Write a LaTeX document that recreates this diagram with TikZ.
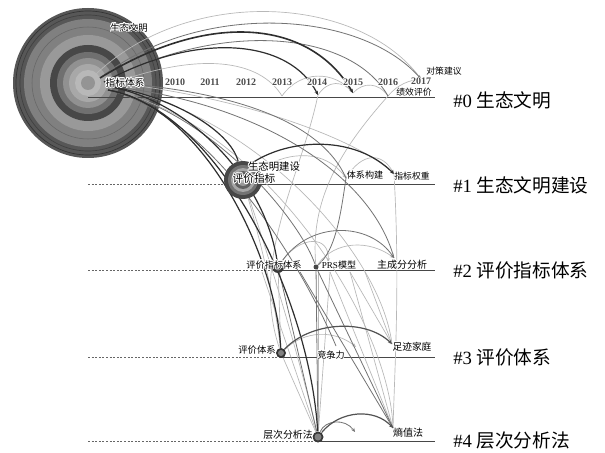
\documentclass[tikz,border=0pt]{standalone}
\usepackage{fontspec}
\setmainfont{Liberation Serif}
\newfontfamily\cjk{Noto Sans CJK SC}
\usepackage[copies]{contour}
\contourlength{0.6pt}
\usetikzlibrary{arrows.meta}
\begin{document}
\begin{tikzpicture}[x=0.75pt,y=-0.75pt,
  dk/.style={draw=black!82,line width=0.9pt},
  md/.style={draw=black!55,line width=0.6pt},
  lt/.style={draw=black!28,line width=0.5pt},
  tip/.style={-{Stealth[length=3pt,width=2.6pt]}},
  rowline/.style={draw=black!72,line width=0.7pt},
  dashrow/.style={draw=black!60,line width=0.6pt,dash pattern=on 1.5pt off 1.2pt},
  hub/.style={circle,inner sep=0pt},
  lbl/.style={font=\cjk\fontsize{7}{8}\selectfont,inner sep=0pt},
  yr/.style={font=\bfseries\fontsize{7.5}{8}\selectfont,text=black!70,inner sep=0pt},
  cluster/.style={font=\fontsize{14}{16}\selectfont,anchor=west,inner sep=0pt}]
\fill[white] (0,0) rectangle (605,452);
\useasboundingbox (0,0) rectangle (605,452);

% ---------- big circle (node #0) ----------
\fill[black!66] (88,83) circle[radius=75];
\draw[black!80,line width=0.5pt] (88,83) circle[radius=72];
\draw[black!75,line width=0.5pt] (88,83) circle[radius=68];
\fill[black!50] (88,83) circle[radius=64];
\draw[black!60,line width=0.4pt] (88,83) circle[radius=56];
\fill[black!40] (88,83) circle[radius=48];
\fill[black!72] (88,83) circle[radius=38];
\fill[black!56] (88,83) circle[radius=31];
\fill[black!43] (88,83) circle[radius=25];
\fill[black!34] (88,83) circle[radius=19];
\fill[black!28] (88,83) circle[radius=13];
\fill[black!42] (88,83) circle[radius=7];
\node[hub,minimum size=112pt] (N0) at (88,83) {};

% ---------- coordinates ----------
\coordinate (o5) at (96,74);
\coordinate (o1) at (100,78);
\coordinate (o2) at (104,82);
\coordinate (o3) at (106,86);
\coordinate (o4) at (108,90);
\coordinate (T17) at (421,79);
\coordinate (T16) at (388,96);
\coordinate (T15) at (353,93);
\coordinate (T14) at (318,95);
\coordinate (T13) at (282,96);
\coordinate (TX) at (346,178);
\coordinate (QZ) at (394,174);
\coordinate (N1a) at (252,163);
\coordinate (m2) at (328,262);
\coordinate (ZC) at (394,258);
\coordinate (p1) at (262,272);
\coordinate (p2) at (300,272);
\coordinate (p3) at (330,272);
\coordinate (p4) at (350,272);
\coordinate (p5) at (365,272);
\coordinate (pv) at (318,272);
\coordinate (JZ) at (336,346);
\coordinate (m3) at (356,347);
\coordinate (ZJ) at (392,344);
\coordinate (SZ) at (393,428);
\coordinate (m4) at (355,432);

% ---------- row lines ----------
\coordinate (r0s) at (88,97);  \coordinate (r0e) at (435,97);
\coordinate (r1s) at (88,184); \coordinate (r1m) at (240,184); \coordinate (r1e) at (435,184);
\coordinate (r2s) at (88,270); \coordinate (r2m) at (276,270); \coordinate (r2e) at (435,270);
\coordinate (r3s) at (88,357); \coordinate (r3m) at (280,357); \coordinate (r3e) at (435,357);
\coordinate (r4s) at (88,441); \coordinate (r4m) at (316,441); \coordinate (r4e) at (435,441);
\draw[rowline] (r0s) -- (r0e);
\draw[dashrow] (r1s) -- (r1m); \draw[rowline] (r1m) -- (r1e);
\draw[dashrow] (r2s) -- (r2m); \draw[rowline] (r2m) -- (r2e);
\draw[dashrow] (r3s) -- (r3m); \draw[rowline] (r3m) -- (r3e);
\draw[dashrow] (r4s) -- (r4m); \draw[rowline] (r4m) -- (r4e);

% ---------- nodes (named, drawn later) ----------
\node[hub,minimum size=28.5pt] (N1) at (243,180) {};
\node[hub,minimum size=9pt] (N2) at (278,267) {};
\node[hub,minimum size=3.8pt] (PRS) at (316,267) {};
\node[hub,minimum size=7.5pt] (N3) at (281,353) {};
\node[hub,minimum size=8.3pt] (N4) at (318,437) {};

% ---------- light links ----------
\draw[lt] (o5) .. controls (190,-15) and (360,-5) .. (T17);
\draw[lt] (o3) .. controls (200,50) and (260,60) .. (T13);
\draw[lt] (T14) .. controls (328,80) and (343,80) .. (T15);
\draw[lt] (T15) .. controls (363,82) and (378,82) .. (T16);
\draw[lt] (T16) .. controls (398,84) and (410,80) .. (T17);
\draw[lt] (T13) .. controls (300,70) and (335,70) .. (T15);
\draw[lt] (o3) .. controls (250,110) and (380,250) .. (ZJ);
\draw[lt] (o4) .. controls (260,120) and (390,320) .. (SZ);
\draw[lt] (o2) .. controls (240,95) and (360,140) .. (QZ);
\draw[lt] (N1) .. controls (270,260) and (300,360) .. (N4);
\draw[lt] (N1) .. controls (260,240) and (275,300) .. (N3);
\draw[lt] (T14) .. controls (300,180) and (250,260) .. (N3);
\draw[lt] (T16) .. controls (340,150) and (310,200) .. (PRS);
\draw[lt] (QZ) .. controls (400,280) and (395,360) .. (SZ);
\draw[lt] (p1) -- (N4);
\draw[lt] (pv) -- (N4);
\draw[lt] (p3) -- (N4);
\draw[lt] (p3) -- (SZ);
\draw[lt] (p4) -- (SZ);
\draw[lt] (p4) -- (ZJ);
\draw[lt] (p5) -- (ZJ);
\draw[lt] (N2) -- (N3);
\draw[lt] (N3) -- (N4);
\draw[lt,tip] (N1) .. controls (290,150) and (325,150) .. (TX);
\draw[lt,tip] (TX) .. controls (362,152) and (382,152) .. (QZ);
\draw[lt,tip] (N2) .. controls (300,235) and (330,235) .. (m2);
\draw[lt,tip] (N3) .. controls (305,330) and (335,330) .. (m3);
\draw[lt,tip] (PRS) .. controls (335,240) and (370,240) .. (ZC);

% ---------- medium links ----------
\draw[md,tip] (o1) .. controls (200,0) and (360,10) .. (T17);
\draw[md] (o2) .. controls (220,20) and (350,30) .. (T16);
\draw[md] (o4) .. controls (210,110) and (300,220) .. (PRS);
\draw[md] (o2) .. controls (230,90) and (320,120) .. (TX);
\draw[md] (o3) .. controls (250,100) and (370,170) .. (ZC);
\draw[md] (o4) .. controls (210,115) and (300,260) .. (JZ);
\draw[md] (TX) .. controls (340,220) and (335,250) .. (PRS);
\draw[md] (N2) -- (N4);
\draw[md] (p2) -- (SZ);
\draw[md] (PRS) -- (SZ);
\draw[md] (PRS) -- (N4);
\draw[md,tip] (N2) .. controls (310,220) and (370,222) .. (ZC);
\draw[md,tip] (N4) .. controls (325,420) and (345,418) .. (m4);

% ---------- dark links ----------
\draw[dk,line width=1.2pt,tip] (o1) .. controls (210,10) and (310,20) .. (T15);
\draw[dk,tip] (o2) .. controls (200,30) and (290,40) .. (T14);
\draw[dk] (o3) .. controls (170,95) and (230,130) .. (N1);
\draw[dk] (o3) .. controls (190,100) and (265,180) .. (N2);
\draw[dk] (o4) .. controls (200,105) and (275,250) .. (N3);
\draw[dk] (o4) .. controls (220,110) and (310,300) .. (N4);
\draw[dk,tip] (N1a) .. controls (290,138) and (355,135) .. (QZ);
\draw[dk,draw=black!68,tip] (N3) .. controls (310,322) and (365,318) .. (ZJ);
\draw[dk,draw=black!68,tip] (N4) .. controls (340,410) and (375,408) .. (SZ);

% ---------- node discs ----------
\fill[black!72] (N1.center) circle[radius=19];
\fill[black!55] (N1.center) circle[radius=15];
\fill[black!35] (N1.center) circle[radius=12];
\fill[black!62] (N1.center) circle[radius=9];
\fill[black!40] (N1.center) circle[radius=6];
\fill[black!28] (N1.center) circle[radius=3];
\fill[black!78] (N2.center) circle[radius=6];
\fill[black!45] (N2.center) circle[radius=3.5];
\fill[black!72] (PRS.center) circle[radius=2.5];
\fill[black!80] (N3.center) circle[radius=5];
\fill[black!50] (N3.center) circle[radius=3];
\fill[black!78] (N4.center) circle[radius=5.5];
\fill[black!50] (N4.center) circle[radius=3.5];

% ---------- years ----------
\node[yr] (y10) at (175,83) {\contour{white}{2010}};
\node[yr] (y11) at (210,83) {\contour{white}{2011}};
\node[yr] (y12) at (246,83) {\contour{white}{2012}};
\node[yr] (y13) at (282,83) {\contour{white}{2013}};
\node[yr] (y14) at (317,83) {\contour{white}{2014}};
\node[yr] (y15) at (353,83) {\contour{white}{2015}};
\node[yr] (y16) at (388,83) {\contour{white}{2016}};
\node[yr] (y17) at (421,82) {\contour{white}{2017}};

% ---------- keyword labels ----------
\node[lbl] (l1) at (129,28) {\contour{white}{生态文明}};
\node[lbl,font=\cjk\fontsize{7.3}{8}\selectfont] (l2) at (125,83) {\contour{white}{指标体系}};
\node[lbl,font=\cjk\fontsize{6.6}{8}\selectfont] (l3) at (444,72) {\contour{white}{对策建议}};
\node[lbl,font=\cjk\fontsize{6.6}{8}\selectfont] (l4) at (414,93) {\contour{white}{绩效评价}};
\node[lbl,font=\cjk\fontsize{7.8}{8}\selectfont] (l5) at (274,167) {\contour{white}{生态明建设}};
\node[lbl,font=\cjk\fontsize{8}{9}\selectfont] (l6) at (254,179) {\contour{white}{评价指标}};
\node[lbl,font=\cjk\fontsize{6.8}{8}\selectfont] (l7) at (365,175) {\contour{white}{体系构建}};
\node[lbl,font=\cjk\fontsize{6.6}{8}\selectfont] (l8) at (412,177) {\contour{white}{指标权重}};
\node[lbl,font=\cjk\fontsize{6.9}{8}\selectfont] (l9) at (274,265) {\contour{white}{评价指标体系}};
\node[lbl,font=\cjk\fontsize{6.8}{8}\selectfont] (l10) at (339,265) {\contour{white}{{\rmfamily PRS}模型}};
\node[lbl,font=\cjk\fontsize{7.5}{8}\selectfont] (l11) at (402,265) {\contour{white}{主成分分析}};
\node[lbl] (l12) at (257,350) {\contour{white}{评价体系}};
\node[lbl,font=\cjk\fontsize{6.8}{8}\selectfont] (l13) at (331,355) {\contour{white}{竞争力}};
\node[lbl,font=\cjk\fontsize{7.3}{8}\selectfont] (l14) at (412,347) {\contour{white}{足迹家庭}};
\node[lbl,font=\cjk\fontsize{7.4}{8}\selectfont] (l15) at (288,435) {\contour{white}{层次分析法}};
\node[lbl,font=\cjk\fontsize{7.5}{8}\selectfont] (l16) at (408,433) {\contour{white}{熵值法}};

% ---------- cluster labels ----------
\node[cluster] (c0) at (453,100) {\#0 {\cjk 生态文明}};
\node[cluster] (c1) at (453,185) {\#1 {\cjk 生态文明建设}};
\node[cluster] (c2) at (453,270) {\#2 {\cjk 评价指标体系}};
\node[cluster] (c3) at (453,357) {\#3 {\cjk 评价体系}};
\node[cluster] (c4) at (453,440) {\#4 {\cjk 层次分析法}};
\end{tikzpicture}
\end{document}
